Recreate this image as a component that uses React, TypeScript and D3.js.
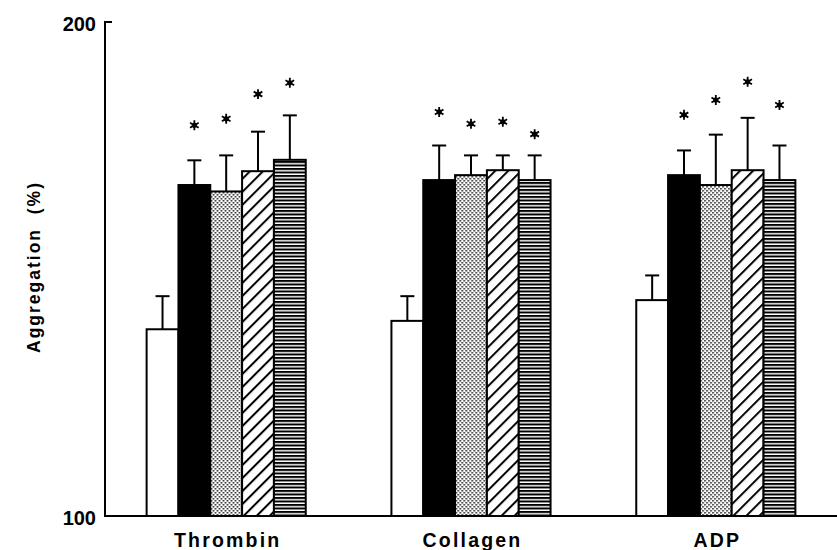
import { useEffect, useRef } from 'react'
import * as d3 from 'd3'

const agonists = ['Thrombin', 'Collagen', 'ADP']
const treatments = ['control', 'solid', 'dotted', 'hatched', 'lined']
const thrombinMeans = [137.8, 167.0, 165.7, 169.8, 172.1]
const collagenMeans = [139.5, 168.0, 169.0, 170.0, 168.0]
const adpMeans = [143.7, 169.0, 167.0, 170.0, 168.0]
const thrombinErr = [6.7, 5.0, 7.3, 8.0, 9.0]
const collagenErr = [5.0, 7.0, 4.0, 3.0, 5.0]
const adpErr = [5.0, 5.0, 10.2, 10.6, 7.0]
// level of the significance asterisk (null = none)
const thrombinStars = [null, 179.1, 180.4, 185.4, 187.7]
const collagenStars = [null, 181.8, 179.4, 179.8, 177.3]
const adpStars = [null, 181.2, 184.2, 187.9, 183.2]
const yTicks = [100, 200]

const means = [thrombinMeans, collagenMeans, adpMeans]
const errs = [thrombinErr, collagenErr, adpErr]
const stars = [thrombinStars, collagenStars, adpStars]

const FONT = '"Liberation Sans", Arial, Helvetica, sans-serif'

export default function App() {
  const svgRef = useRef<SVGSVGElement>(null)

  useEffect(() => {
    if (!svgRef.current) return
    const svg = d3.select(svgRef.current)
    svg.selectAll('*').remove()

    const W = 837
    const left = 105
    const top = 22
    const bottom = 516

    const defs = svg.append('defs')
    const dots = defs.append('pattern')
      .attr('id', 'dots')
      .attr('width', 4)
      .attr('height', 4)
      .attr('patternUnits', 'userSpaceOnUse')
    dots.append('rect').attr('width', 4).attr('height', 4).attr('fill', '#fff')
    dots.append('rect').attr('x', 0).attr('y', 0).attr('width', 1.6).attr('height', 1.6).attr('fill', '#222')
    dots.append('rect').attr('x', 2).attr('y', 2).attr('width', 1.6).attr('height', 1.6).attr('fill', '#222')

    const hatch = defs.append('pattern')
      .attr('id', 'hatch')
      .attr('width', 9.2)
      .attr('height', 9.2)
      .attr('patternUnits', 'userSpaceOnUse')
      .attr('patternTransform', 'rotate(45)')
    hatch.append('rect').attr('width', 9.2).attr('height', 9.2).attr('fill', '#fff')
    hatch.append('rect').attr('width', 2).attr('height', 9.2).attr('fill', '#000')

    const lines = defs.append('pattern')
      .attr('id', 'lines')
      .attr('width', 8)
      .attr('height', 3.5)
      .attr('patternUnits', 'userSpaceOnUse')
    lines.append('rect').attr('width', 8).attr('height', 3.5).attr('fill', '#fff')
    lines.append('rect').attr('width', 8).attr('height', 2).attr('fill', '#000')

    const fills: Record<string, string> = {
      control: '#fff',
      solid: '#000',
      dotted: 'url(#dots)',
      hatched: 'url(#hatch)',
      lined: 'url(#lines)',
    }

    const x0 = d3.scaleBand()
      .domain(agonists)
      .range([left, W])
      .paddingInner(0.35)
      .paddingOuter(0.17)

    const x1 = d3.scaleBand()
      .domain(treatments)
      .range([0, x0.bandwidth()])

    const y = d3.scaleLinear().domain([100, 200]).range([bottom, top])

    const g = svg.append('g')

    agonists.forEach((a, i) => {
      const grp = g.append('g').attr('transform', `translate(${x0(a)},0)`)
      treatments.forEach((t, j) => {
        const v = means[i][j]
        const e = errs[i][j]
        const bx = x1(t)!
        const cx = bx + x1.bandwidth() / 2
        // error bar
        grp.append('line')
          .attr('x1', cx).attr('x2', cx)
          .attr('y1', y(v)).attr('y2', y(v + e))
          .attr('stroke', '#000').attr('stroke-width', 2)
        grp.append('line')
          .attr('x1', cx - 7).attr('x2', cx + 7)
          .attr('y1', y(v + e)).attr('y2', y(v + e))
          .attr('stroke', '#000').attr('stroke-width', 2)
        grp.append('rect')
          .attr('x', bx)
          .attr('y', y(v))
          .attr('width', x1.bandwidth())
          .attr('height', y(100) - y(v))
          .attr('fill', fills[t])
          .attr('stroke', '#000')
          .attr('stroke-width', 2)
        const s = stars[i][j]
        if (s != null) {
          grp.append('path')
            .attr('transform', `translate(${cx},${y(s)})`)
            .attr('d', d3.symbol(d3.symbolAsterisk, 70)())
            .attr('fill', 'none')
            .attr('stroke', '#000')
            .attr('stroke-width', 1.8)
          grp.append('circle')
            .attr('cx', cx).attr('cy', y(s)).attr('r', 2.6)
            .attr('fill', '#000')
        }
      })
      g.append('text')
        .attr('x', x0(a)! + x0.bandwidth() / 2 + 1.5)
        .attr('y', 547)
        .attr('text-anchor', 'middle')
        .attr('font-family', FONT)
        .attr('font-weight', 'bold')
        .attr('font-size', 19.5)
        .attr('letter-spacing', 2.2)
        .text(a)
    })

    // axes
    g.append('line')
      .attr('x1', left).attr('x2', left)
      .attr('y1', y(200) - 1).attr('y2', y(100))
      .attr('stroke', '#000').attr('stroke-width', 2)
    g.append('line')
      .attr('x1', left).attr('x2', left + 7)
      .attr('y1', y(200)).attr('y2', y(200))
      .attr('stroke', '#000').attr('stroke-width', 2)
    g.append('line')
      .attr('x1', left - 1).attr('x2', W)
      .attr('y1', y(100)).attr('y2', y(100))
      .attr('stroke', '#000').attr('stroke-width', 2)

    yTicks.forEach((t) => {
      g.append('text')
        .attr('x', 96)
        .attr('y', y(t) + 2)
        .attr('dy', '0.36em')
        .attr('text-anchor', 'end')
        .attr('font-family', FONT)
        .attr('font-weight', 'bold')
        .attr('font-size', 20)
        .text(t)
    })

    g.append('text')
      .attr('transform', `translate(40,${267}) rotate(-90)`)
      .attr('text-anchor', 'middle')
      .attr('font-family', FONT)
      .attr('font-weight', 'bold')
      .attr('font-size', 17.5)
      .attr('letter-spacing', 2)
      .attr('xml:space', 'preserve')
      .style('white-space', 'pre')
      .text('Aggregation  (%)')
  }, [])

  return (
    <svg
      ref={svgRef}
      width={837}
      height={550}
      style={{ position: 'absolute', left: 0, top: 0, background: '#fff' }}
    />
  )
}
